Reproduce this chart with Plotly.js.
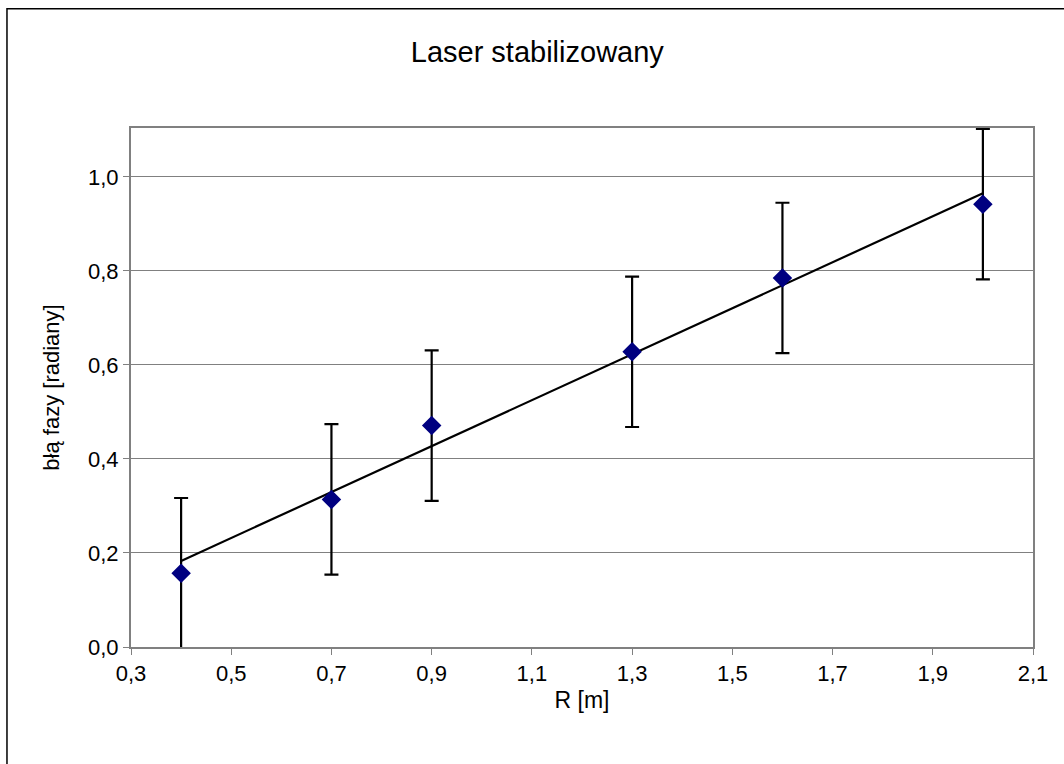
<!DOCTYPE html>
<html>
<head>
<meta charset="utf-8">
<script src="https://cdn.plot.ly/plotly-3.0.1.min.js"></script>
<style>html,body{margin:0;padding:0;background:#fff;}#chart{width:1064px;height:764px;}</style>
</head>
<body>
<div id="chart"></div>
<script>
const rValues = [0.4, 0.7, 0.9, 1.3, 1.6, 2.0];
const phaseError = [0.157, 0.314, 0.471, 0.628, 0.785, 0.942];
const errorSize = [0.16, 0.16, 0.16, 0.16, 0.16, 0.16];
const trendX = [0.4, 2.0];
const trendY = [0.183, 0.965];
const xTickVals = [0.3, 0.5, 0.7, 0.9, 1.1, 1.3, 1.5, 1.7, 1.9, 2.1];
const yTickVals = [0.0, 0.2, 0.4, 0.6, 0.8, 1.0];

const font = 'Liberation Sans, Arial, sans-serif';

const traces = [
  {
    x: trendX, y: trendY, type: 'scatter', mode: 'lines',
    line: {color: '#000000', width: 2.2}, hoverinfo: 'skip', showlegend: false
  },
  {
    x: rValues, y: phaseError, type: 'scatter', mode: 'markers', cliponaxis: false,
    marker: {symbol: 'diamond', size: 15, color: '#000080'},
    error_y: {type: 'data', array: errorSize, visible: true, color: '#000000', thickness: 2.2, width: 7},
    showlegend: false
  }
];

const layout = {
  width: 1064, height: 764,
  margin: {l: 131, r: 31, t: 128, b: 117},
  paper_bgcolor: '#ffffff', plot_bgcolor: '#ffffff',
  separators: ',.',
  font: {family: font, size: 22, color: '#000000'},
  title: {text: 'Laser stabilizowany', font: {family: font, size: 29, color: '#000000'}, x: 0.505, xref: 'container', y: 0.932, yref: 'container', yanchor: 'middle'},
  xaxis: {
    range: [0.3, 2.1], tickvals: xTickVals, tickformat: '.1f',
    showgrid: false, zeroline: false,
    showline: true, mirror: true, linecolor: '#808080', linewidth: 2,
    ticks: 'outside', ticklen: 6, tickcolor: '#808080', tickwidth: 1,
    tickfont: {family: font, size: 22, color: '#000000'},
    title: {text: 'R [m]', font: {family: font, size: 23, color: '#000000'}, standoff: 6}
  },
  yaxis: {
    range: [0, 1.104], tickvals: yTickVals, tickformat: '.1f',
    showgrid: true, gridcolor: '#808080', gridwidth: 1, zeroline: false,
    showline: true, mirror: true, linecolor: '#808080', linewidth: 2,
    ticks: 'outside', ticklen: 6, tickcolor: '#808080', tickwidth: 1,
    tickfont: {family: font, size: 22, color: '#000000'},
    title: {text: 'błą fazy [radiany]', font: {family: font, size: 22, color: '#000000'}, standoff: 22}
  },
  shapes: [
    {type: 'rect', xref: 'paper', yref: 'paper', x0: -0.1375, x1: 1.3, y0: -0.4, y1: 1.23,
     line: {color: '#000000', width: 1.5}, fillcolor: 'rgba(0,0,0,0)', layer: 'below'}
  ]
};

Plotly.newPlot('chart', traces, layout, {displayModeBar: false, staticPlot: true});
</script>
</body>
</html>
